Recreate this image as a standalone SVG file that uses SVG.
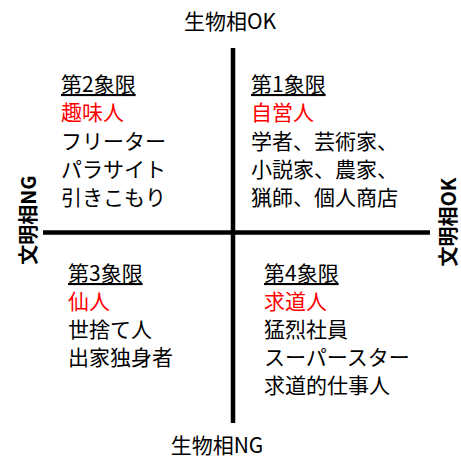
<svg xmlns="http://www.w3.org/2000/svg" width="461" height="461" viewBox="0 0 461 461">
<style>
text{font-family:"Noto Sans CJK JP","Noto Sans",sans-serif;font-size:21px;fill:#000}
.hd{text-decoration:underline}
.red{fill:#f00}
.ax{font-size:21px;text-anchor:middle}
.side{font-weight:bold;font-size:20px;text-anchor:middle}
.line{stroke:#000;stroke-width:4.5;fill:none}
</style>
<rect width="461" height="461" fill="#fff"/>
<g id="connectors">
<line class="line" x1="233" y1="48" x2="233" y2="423"/>
<line class="line" x1="43" y1="232.5" x2="430" y2="232.5"/>
</g>
<g id="axis-top"><text class="ax" x="230" y="29">生物相OK</text></g>
<g id="axis-bottom"><text class="ax" x="217" y="453">生物相NG</text></g>
<g id="axis-left"><text class="side" transform="translate(36,220) rotate(-90)">文明相NG</text></g>
<g id="axis-right"><text class="side" transform="translate(456,222) rotate(-90)">文明相OK</text></g>
<g id="q2">
<text class="hd" x="61" y="92">第2象限</text>
<text class="red" x="61" y="120">趣味人</text>
<text x="61" y="149">フリーター</text>
<text x="61" y="177">パラサイト</text>
<text x="61" y="205">引きこもり</text>
</g>
<g id="q1">
<text class="hd" x="251" y="92">第1象限</text>
<text class="red" x="251" y="120">自営人</text>
<text x="251" y="149">学者、芸術家、</text>
<text x="251" y="177">小説家、農家、</text>
<text x="251" y="205">猟師、個人商店</text>
</g>
<g id="q3">
<text class="hd" x="68" y="281">第3象限</text>
<text class="red" x="68" y="309">仙人</text>
<text x="68" y="337">世捨て人</text>
<text x="68" y="365">出家独身者</text>
</g>
<g id="q4">
<text class="hd" x="264" y="281">第4象限</text>
<text class="red" x="264" y="309">求道人</text>
<text x="264" y="337">猛烈社員</text>
<text x="264" y="365">スーパースター</text>
<text x="264" y="393">求道的仕事人</text>
</g>
</svg>
